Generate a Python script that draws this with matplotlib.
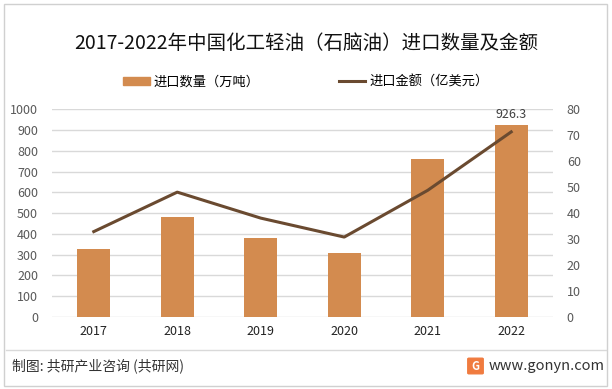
import matplotlib
matplotlib.use("Agg")
import matplotlib.pyplot as plt
from matplotlib.patches import Rectangle, FancyBboxPatch
from matplotlib.lines import Line2D

plt.rcParams['font.family'] = ['Noto Sans CJK SC', 'DejaVu Sans']

# data
years = ["2017", "2018", "2019", "2020", "2021", "2022"]
volume = [327, 481, 380, 307, 760, 926.3]      # 进口数量（万吨）
amount = [32.9, 48.1, 38.1, 30.8, 48.8, 71.3]  # 进口金额（亿美元）

bar_color = "#D38B4F"
line_color = "#6A4A30"
grid_color = "#D9D9D9"
tick_color = "#595959"

fig = plt.figure(figsize=(6.12, 3.89), dpi=100)

ax = fig.add_axes([0.085, 0.185, 0.8185, 0.534])
x = list(range(len(years)))
ax.bar(x, volume, width=0.4, color=bar_color, zorder=2)
ax.set_ylim(0, 1000)
ax.set_yticks(range(0, 1001, 100))
ax.set_xlim(-0.5, len(years) - 0.5)
ax.set_xticks(x)
ax.set_xticklabels(years, fontsize=9, color="#222222")
ax.grid(axis="y", color=grid_color, linewidth=1, zorder=0)
ax.set_axisbelow(True)
for s in ax.spines.values():
    s.set_visible(False)
ax.tick_params(axis="both", length=0)
ax.tick_params(axis="y", labelsize=9, labelcolor=tick_color, pad=10)
ax.tick_params(axis="x", pad=6)

ax.text(x[-1], volume[-1] + 18, f"{volume[-1]:.1f}", ha="center", va="bottom",
        fontsize=9, color="#404040")

ax2 = ax.twinx()
ax2.plot(x, amount, color=line_color, linewidth=2.2, zorder=3)
ax2.set_ylim(0, 80)
ax2.set_yticks(range(0, 81, 10))
for s in ax2.spines.values():
    s.set_visible(False)
ax2.tick_params(axis="y", length=0, labelsize=9, labelcolor=tick_color, pad=10)

# title
fig.text(0.5, 1 - 43 / 389, "2017-2022年中国化工轻油（石脑油）进口数量及金额",
         ha="center", va="center", fontsize=14, color="#111111")

# legend
handles = [Rectangle((0, 0), 1, 1, color=bar_color),
           Line2D([0], [0], color=line_color, linewidth=2.2)]
fig.legend(handles, ["进口数量（万吨）", "进口金额（亿美元）"], loc="center",
           bbox_to_anchor=(0.5, 1 - 82 / 389), ncol=2, frameon=False, fontsize=9.5,
           handlelength=2.0, handleheight=0.6, columnspacing=6.0, handletextpad=0.3)

# footer
fig.add_artist(Line2D([6 / 612, 606 / 612], [1 - 350 / 389, 1 - 350 / 389],
                      color="#D9D9D9", linewidth=1))
fig.text(12 / 612, 1 - 366 / 389, "制图: 共研产业咨询 (共研网)", ha="left", va="center",
         fontsize=10, color="#333333")
fig.add_artist(FancyBboxPatch((469 / 612, 1 - 373 / 389), 13 / 612, 14 / 389,
                              boxstyle="round,pad=0.002", color="#F07B3F",
                              transform=fig.transFigure))
fig.text(475.5 / 612, 1 - 366 / 389, "G", ha="center", va="center", fontsize=8,
         color="white", fontweight="bold")
fig.text(489 / 612, 1 - 366 / 389, "www.gonyn.com", ha="left", va="center",
         fontsize=10.5, color="#333333")

# outer border
fig.add_artist(Rectangle((4 / 612, 3 / 389), 603 / 612, 382 / 389, fill=False,
                         edgecolor="#D0D0D0", linewidth=1, transform=fig.transFigure))

fig.savefig("out.png", dpi=100)
